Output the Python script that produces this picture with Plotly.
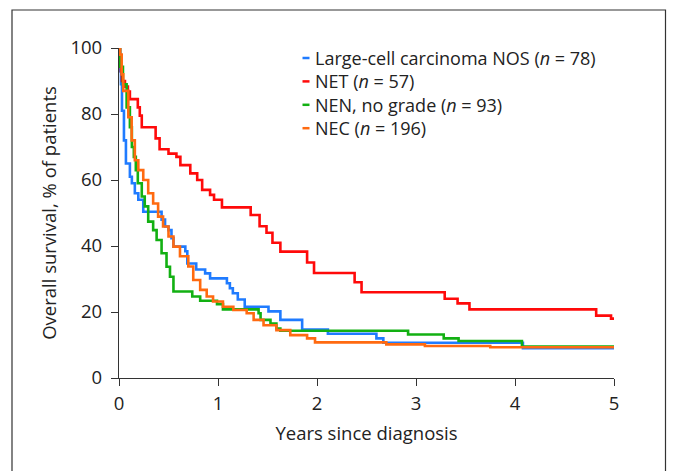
import plotly.graph_objects as go

# ---- data ----
group_names = ["Large-cell carcinoma NOS", "NET", "NEN, no grade", "NEC"]
group_n = [78, 57, 93, 196]
colors = ["#1f7bff", "#ff0a0a", "#12b012", "#ff6a10"]

lcc_t = [0, 0.01, 0.02, 0.03, 0.05, 0.07, 0.11, 0.13, 0.16, 0.195, 0.245, 0.43, 0.465, 0.5, 0.53,
         0.55, 0.67, 0.69, 0.78, 0.87, 0.92, 1.09, 1.12, 1.15, 1.2, 1.27, 1.51, 1.63, 1.85, 2.11,
         2.6, 2.67, 4.08, 5.0]
lcc_s = [100, 93, 89, 81, 72, 65, 61, 59, 56, 54, 50.4, 48, 45.9, 44.8, 42.4,
         39.8, 38.4, 34.7, 32.9, 31.7, 30.2, 28.7, 27.2, 25.7, 23.8, 21.6, 20.2, 17.6, 14.7, 13.4,
         12, 10.7, 9, 9]

net_t = [0, 0.01, 0.02, 0.03, 0.06, 0.09, 0.11, 0.19, 0.21, 0.23, 0.37, 0.41, 0.5, 0.58, 0.62,
         0.72, 0.79, 0.84, 0.92, 0.96, 1.04, 1.33, 1.42, 1.49, 1.55, 1.63, 1.9, 1.97, 2.38, 2.45,
         3.29, 3.42, 3.54, 4.82, 4.97, 5.0]
net_s = [100, 97, 93, 90, 88.3, 86.8, 84.5, 82, 79.5, 76, 72.6, 69.3, 68, 67, 64.5,
         62, 60, 57, 55.5, 54, 51.7, 49.4, 46, 44, 41, 38.3, 35, 31.8, 29, 26,
         24, 22.6, 20.8, 18.9, 18, 18]

nen_t = [0, 0.01, 0.04, 0.077, 0.11, 0.13, 0.15, 0.17, 0.19, 0.23, 0.26, 0.295, 0.345, 0.38,
         0.43, 0.48, 0.515, 0.55, 0.74, 0.82, 0.99, 1.05, 1.41, 1.43, 1.53, 1.59, 1.63, 2.92,
         3.28, 3.43, 4.07, 5.0]
nen_s = [100, 94.3, 89, 82, 76, 70, 67, 63, 59, 55, 52, 47.4, 44.8, 41.8,
         37.8, 33.7, 30.7, 26.2, 24.7, 23.4, 22.4, 20.8, 19.6, 17.6, 16.5, 15, 14.3, 13.2,
         12, 11.2, 9.5, 9.5]

nec_t = [0, 0.01, 0.027, 0.043, 0.094, 0.128, 0.16, 0.195, 0.245, 0.295, 0.345, 0.395, 0.445,
         0.5, 0.55, 0.616, 0.7, 0.75, 0.82, 0.886, 0.95, 1.05, 1.155, 1.29, 1.36, 1.46, 1.59,
         1.73, 1.9, 1.98, 2.7, 3.09, 3.75, 5.0]
nec_s = [100, 98, 92, 87, 79, 72, 66, 63, 60, 56, 52.9, 48.9, 45.9,
         42.9, 39.8, 36.9, 33.8, 29.7, 26.7, 24.7, 23.2, 21.6, 20.6, 19.6, 17.6, 16, 14.5,
         13, 12, 10.8, 10.2, 9.7, 9.3, 9.3]

x_ticks = [0, 1, 2, 3, 4, 5]
y_ticks = [0, 20, 40, 60, 80, 100]

series = [(lcc_t, lcc_s), (net_t, net_s), (nen_t, nen_s), (nec_t, nec_s)]

FONT = "Open Sans"
FS = 18.5
LEG_FS = 18
TXT = "#222222"
OFF = 8  # browser body margin

fig = go.Figure()
for (t, s), name, n, c in zip(series, group_names, group_n, colors):
    fig.add_trace(go.Scatter(
        x=t, y=s, mode="lines", name=f"{name} (n = {n})",
        line=dict(shape="hv", color=c, width=2.6),
        showlegend=False, cliponaxis=False, hoverinfo="skip"))

# plot area in window pixels
L, R, T, B = 119, 614, 48, 378
W, H = R - L, B - T
def px2paper(px, py):
    return (px - L) / W, (B - py) / H

shapes = []
annotations = []

# compact legend: one multi-line text block + short coloured dashes
row_gap = LEG_FS * 1.3
first_row = 58
for i, c in enumerate(colors):
    py = first_row + i * row_gap
    x0, y0 = px2paper(302.5, py)
    x1, _ = px2paper(309.5, py)
    shapes.append(dict(type="line", xref="paper", yref="paper", x0=x0, x1=x1, y0=y0, y1=y0,
                       line=dict(color=c, width=2.5)))
legend_text = "<br>".join(f"{name} (<i>n</i> = {n})" for name, n in zip(group_names, group_n))
tx, ty = px2paper(314, first_row + 1.5 * row_gap)
annotations.append(dict(xref="paper", yref="paper", x=tx, y=ty, xanchor="left", yanchor="middle",
                        text=legend_text, align="left", showarrow=False, borderpad=0,
                        font=dict(family=FONT, size=LEG_FS, color=TXT)))

# outer frame
fx0, fy0 = px2paper(12, 10)
fx1, fy1 = px2paper(665.5, 490)
shapes.append(dict(type="rect", xref="paper", yref="paper", x0=fx0, x1=fx1, y0=fy1, y1=fy0,
                   line=dict(color="#333333", width=1.2), layer="below"))

fig.update_layout(
    width=678, height=471,
    margin=dict(l=L - OFF, r=678 - R + OFF, t=T - OFF, b=471 - B + OFF),
    paper_bgcolor="white", plot_bgcolor="white",
    font=dict(family=FONT, size=FS, color=TXT),
    shapes=shapes, annotations=annotations,
    xaxis=dict(range=[0, 5], tickvals=x_ticks, ticktext=[str(v) for v in x_ticks],
               ticks="outside", ticklen=7, tickcolor="#333333", tickwidth=1,
               ticklabelstandoff=2,
               showline=True, linecolor="#333333", linewidth=1.2,
               showgrid=False, zeroline=False,
               tickfont=dict(family=FONT, size=FS, color=TXT),
               title=dict(text="Years since diagnosis", standoff=12,
                          font=dict(family=FONT, size=FS, color=TXT))),
    yaxis=dict(range=[0, 100], tickvals=y_ticks, ticktext=[str(v) for v in y_ticks],
               ticks="outside", ticklen=7, tickcolor="#333333", tickwidth=1,
               ticklabelstandoff=5,
               showline=True, linecolor="#333333", linewidth=1.2,
               showgrid=False, zeroline=False,
               tickfont=dict(family=FONT, size=FS, color=TXT),
               title=dict(text="Overall survival, % of patients", standoff=8,
                          font=dict(family=FONT, size=FS, color=TXT))),
)

fig.write_html("out.html")
